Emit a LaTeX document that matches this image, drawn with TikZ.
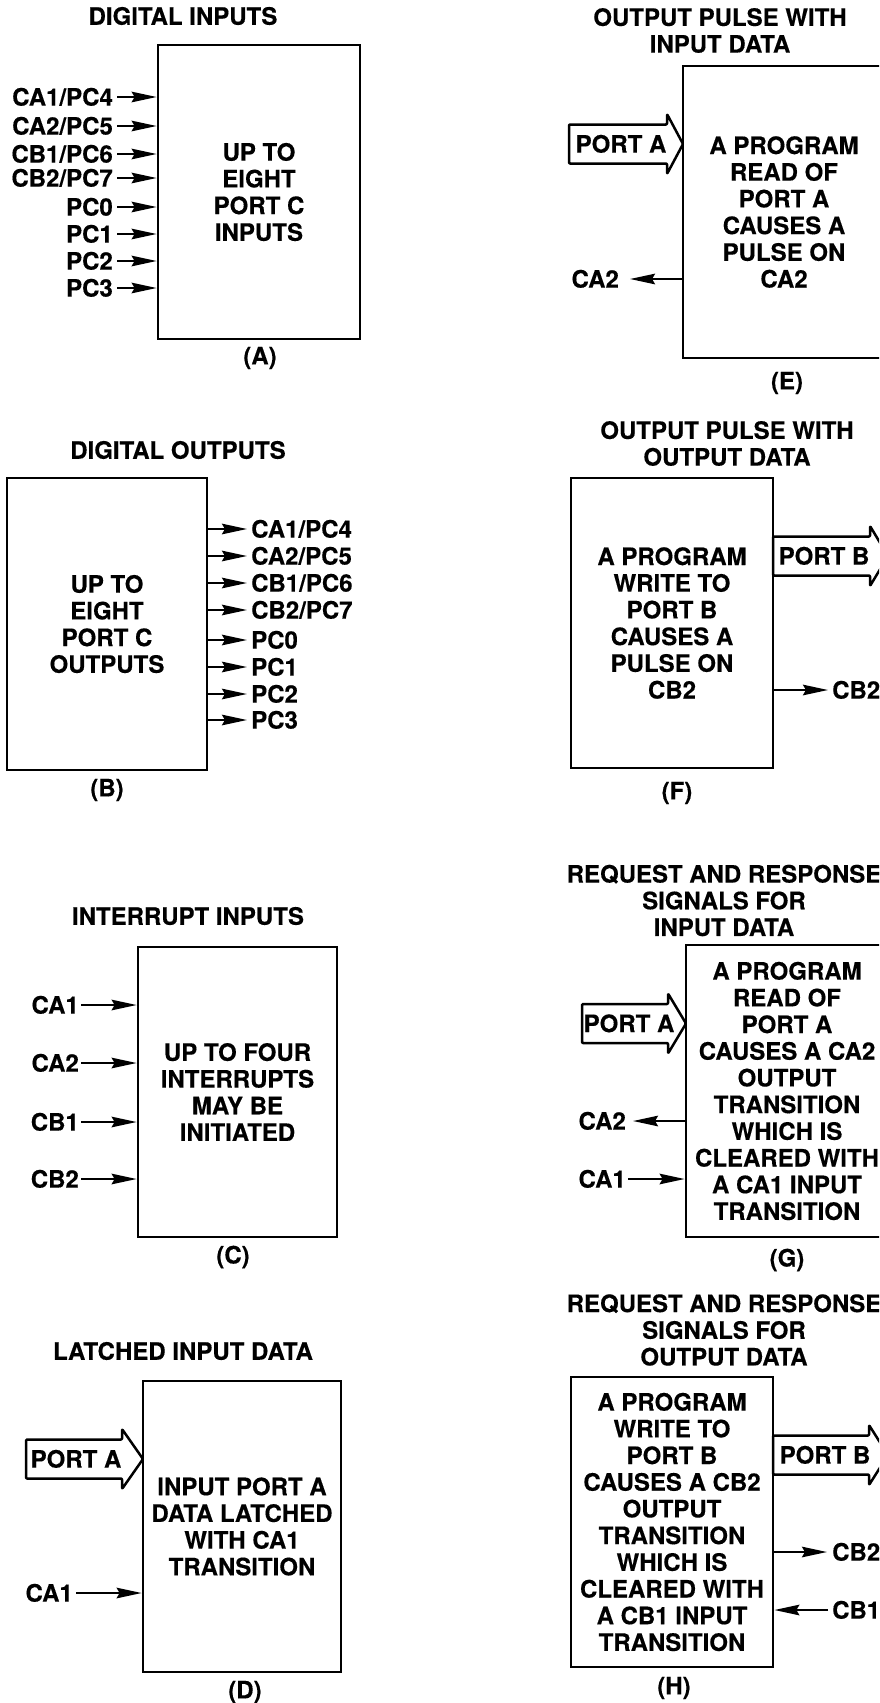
\documentclass[tikz,border=0pt]{standalone}
\usepackage{fontspec}
\setmainfont{TeX Gyre Heros}[BoldFeatures={FakeBold=0.35}]
\usetikzlibrary{arrows.meta}
\newcommand\fatarr[4]{\draw[fat] (#1,#4-19.5) -- (#2,#4-19.5) -- (#2,#4-30) -- (#3,#4) -- (#2,#4+30) -- (#2,#4+19.5) -- (#1,#4+19.5) -- cycle;}
\begin{document}
\begin{tikzpicture}[x=1pt,y=-1pt,
  every node/.style={font=\fontsize{24}{26.7}\selectfont\bfseries},
  box/.style={draw, line width=2.7pt, minimum width=202pt, minimum height=292pt, align=center, inner sep=0pt},
  ttl/.style={align=center, inner sep=0pt},
  lbl/.style={inner sep=0pt, text height=17.2pt, text depth=0pt},
  sig/.style={line width=2.3pt, -{Stealth[length=25pt,width=10.5pt,inset=3pt]}},
  fat/.style={line width=2.5pt, line join=round, rounded corners=1pt}
]
\useasboundingbox (0,0) rectangle (879,1703);
\fill[white] (0,0) rectangle (879,1703);
\clip (0,0) rectangle (879,1703);

% ---------- (A) ----------
\node[ttl] (tA) at (183,16) {DIGITAL INPUTS};
\node[box, minimum width=202pt, minimum height=294pt] (A) at (259,192) {UP TO\\EIGHT\\PORT C\\INPUTS};
\node[ttl] (sA) at (260,358) {(A)};
\node[lbl, anchor=east] (a1) at (113,97) {CA1/PC4};
\node[lbl, anchor=east] (a2) at (113,126) {CA2/PC5};
\node[lbl, anchor=east] (a3) at (113,154) {CB1/PC6};
\node[lbl, anchor=east] (a4) at (113,178) {CB2/PC7};
\node[lbl, anchor=east] (a5) at (113,207) {PC0};
\node[lbl, anchor=east] (a6) at (113,234) {PC1};
\node[lbl, anchor=east] (a7) at (113,261) {PC2};
\node[lbl, anchor=east] (a8) at (113,288) {PC3};
\foreach \n in {a1,a2,a3,a4,a5,a6,a7,a8}
  \draw[sig] ([xshift=4pt]\n.east) -- (\n.east -| A.west);

% ---------- (B) ----------
\node[ttl] (tB) at (178,450) {DIGITAL OUTPUTS};
\node[box, minimum width=200pt, minimum height=292pt] (B) at (107,624) {UP TO\\EIGHT\\PORT C\\OUTPUTS};
\node[ttl] (sB) at (107,790) {(B)};
\node[lbl, anchor=west] (b1) at (251,529) {CA1/PC4};
\node[lbl, anchor=west] (b2) at (251,556) {CA2/PC5};
\node[lbl, anchor=west] (b3) at (251,583) {CB1/PC6};
\node[lbl, anchor=west] (b4) at (251,610) {CB2/PC7};
\node[lbl, anchor=west] (b5) at (251,640) {PC0};
\node[lbl, anchor=west] (b6) at (251,667) {PC1};
\node[lbl, anchor=west] (b7) at (251,694) {PC2};
\node[lbl, anchor=west] (b8) at (251,720) {PC3};
\foreach \n in {b1,b2,b3,b4,b5,b6,b7,b8}
  \draw[sig] (\n.west -| B.east) -- ([xshift=-4pt]\n.west);

% ---------- (C) ----------
\node[ttl] (tC) at (188,916) {INTERRUPT INPUTS};
\node[box, minimum width=199pt, minimum height=290pt] (C) at (237.5,1092) {UP TO FOUR\\INTERRUPTS\\MAY BE\\INITIATED};
\node[ttl] (sC) at (233,1257) {(C)};
\node[lbl, anchor=east] (c1) at (79,1005) {CA1};
\node[lbl, anchor=east] (c2) at (79,1063) {CA2};
\node[lbl, anchor=east] (c3) at (79,1122) {CB1};
\node[lbl, anchor=east] (c4) at (79,1179) {CB2};
\foreach \n in {c1,c2,c3,c4}
  \draw[sig] ([xshift=2pt]\n.east) -- (\n.east -| C.west);

% ---------- (D) ----------
\node[ttl] (tD) at (183,1351) {LATCHED INPUT DATA};
\node[box, minimum width=198pt, minimum height=291pt] (D) at (242,1526.5) {INPUT PORT A\\DATA LATCHED\\WITH CA1\\TRANSITION};
\node[ttl] (sD) at (245,1692) {(D)};
\fatarr{26}{122}{143}{1459}
\node[lbl] (pD) at (76,1459) {PORT A};
\node[lbl, anchor=east] (d1) at (73,1593) {CA1};
\draw[sig] ([xshift=3pt]d1.east) -- (d1.east -| D.west);

% ---------- (E) ----------
\node[ttl] (tE) at (720,30.5) {OUTPUT PULSE WITH\\INPUT DATA};
\node[box, minimum width=202pt, minimum height=292pt] (E) at (784,212) {A PROGRAM\\READ OF\\PORT A\\CAUSES A\\PULSE ON\\CA2};
\node[ttl] (sE) at (787,383) {(E)};
\fatarr{569}{667}{683}{144}
\node[lbl] (pE) at (621,144) {PORT A};
\node[lbl, anchor=east] (e1) at (619,279) {CA2};
\draw[sig] (e1.east -| E.west) -- ([xshift=11pt]e1.east);

% ---------- (F) ----------
\node[ttl] (tF) at (727,443.5) {OUTPUT PULSE WITH\\OUTPUT DATA};
\node[box, minimum width=202pt, minimum height=290pt] (F) at (672,623) {A PROGRAM\\WRITE TO\\PORT B\\CAUSES A\\PULSE ON\\CB2};
\node[ttl] (sF) at (677,793) {(F)};
\fatarr{773}{870}{888}{556}
\node[lbl] (pF) at (824,556) {PORT B};
\node[lbl, anchor=west] (f1) at (832,690) {CB2};
\draw[sig] (f1.west -| F.east) -- ([xshift=-4pt]f1.west);

% ---------- (G) ----------
\node[ttl] (tG) at (724,900.5) {REQUEST AND RESPONSE\\SIGNALS FOR\\INPUT DATA};
\node[box, minimum width=202pt, minimum height=292pt] (G) at (787,1091) {A PROGRAM\\READ OF\\PORT A\\CAUSES A CA2\\OUTPUT\\TRANSITION\\WHICH IS\\CLEARED WITH\\A CA1 INPUT\\TRANSITION};
\node[ttl] (sG) at (787,1260) {(G)};
\fatarr{582}{668}{686}{1023.5}
\node[lbl] (pG) at (629,1023.5) {PORT A};
\node[lbl, anchor=east] (g2) at (626,1121) {CA2};
\draw[sig] (g2.east -| G.west) -- ([xshift=7pt]g2.east);
\node[lbl, anchor=east] (g1) at (626,1179) {CA1};
\draw[sig] ([xshift=2pt]g1.east) -- (g1.east -| G.west);

% ---------- (H) ----------
\node[ttl] (tH) at (724,1330) {REQUEST AND RESPONSE\\SIGNALS FOR\\OUTPUT DATA};
\node[box, minimum width=202pt, minimum height=290pt] (H) at (672,1522) {A PROGRAM\\WRITE TO\\PORT B\\CAUSES A CB2\\OUTPUT\\TRANSITION\\WHICH IS\\CLEARED WITH\\A CB1 INPUT\\TRANSITION};
\node[ttl] (sH) at (674,1688) {(H)};
\fatarr{773}{869}{888}{1455}
\node[lbl] (pH) at (825,1455) {PORT B};
\node[lbl, anchor=west] (h2) at (832,1552) {CB2};
\draw[sig] (h2.west -| H.east) -- ([xshift=-5pt]h2.west);
\node[lbl, anchor=west] (h1) at (832,1610) {CB1};
\draw[sig] ([xshift=-4pt]h1.west) -- (h1.west -| H.east);
\end{tikzpicture}
\end{document}
